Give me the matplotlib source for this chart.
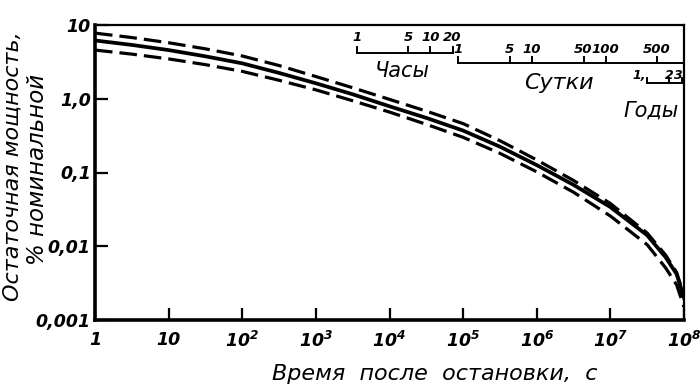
import numpy as np
import matplotlib
matplotlib.use("Agg")
import matplotlib.pyplot as plt
import matplotlib.transforms as mtransforms

# ---- data ----
time_s = [1, 3.16, 10, 31.6, 1e2, 316, 1e3, 3.16e3, 1e4, 3.16e4, 1e5, 3.16e5,
          1e6, 3.16e6, 1e7, 3.16e7, 5.62e7, 7.94e7, 1e8]
power_upper = [7.76, 6.76, 5.75, 4.75, 3.80, 2.82, 2.00, 1.41, 0.98, 0.68, 0.46,
               0.27, 0.148, 0.078, 0.038, 0.0151, 0.0076, 0.0044, 0.00214]
power_nominal = [6.17, 5.37, 4.57, 3.76, 3.02, 2.24, 1.62, 1.15, 0.79, 0.55, 0.37,
                 0.224, 0.126, 0.068, 0.034, 0.0141, 0.0071, 0.0042, 0.0020]
power_lower = [4.57, 4.03, 3.47, 2.90, 2.35, 1.78, 1.32, 0.94, 0.66, 0.45, 0.30,
               0.182, 0.102, 0.054, 0.0257, 0.0105, 0.0051, 0.0030, 0.0015]

x_ticks = [1, 10, 1e2, 1e3, 1e4, 1e5, 1e6, 1e7, 1e8]
x_ticklabels = ["1", "10", r"$10^{2}$", r"$10^{3}$", r"$10^{4}$", r"$10^{5}$",
                r"$10^{6}$", r"$10^{7}$", r"$10^{8}$"]
y_ticks = [0.001, 0.01, 0.1, 1.0, 10]
y_ticklabels = ["0,001", "0,01", "0,1", "1,0", "10"]

hours_ticks = [1, 5, 10, 20]
days_ticks = [1, 5, 10, 50, 100, 500]
years_ticks = [1, 2, 3]
SEC_PER_HOUR = 3600
SEC_PER_DAY = 86400
SEC_PER_YEAR = 3.156e7

# ---- style ----
plt.rcParams["font.family"] = ["DejaVu Sans"]
plt.rcParams["mathtext.fontset"] = "custom"
plt.rcParams["mathtext.rm"] = "DejaVu Sans:italic:bold"
plt.rcParams["mathtext.it"] = "DejaVu Sans:italic:bold"
plt.rcParams["mathtext.default"] = "rm"

fig = plt.figure(figsize=(7, 3.9), dpi=100)
ax = fig.add_axes([95 / 700, 1 - 320 / 390, (684 - 95) / 700, (320 - 25) / 390])

ax.plot(time_s, power_upper, color="black", lw=2.3, dashes=(5.5, 2.2))
ax.plot(time_s, power_nominal, color="black", lw=2.7)
ax.plot(time_s, power_lower, color="black", lw=2.3, dashes=(5.5, 2.2))

ax.set_xscale("log")
ax.set_yscale("log")
ax.set_xlim(1, 1e8)
ax.set_ylim(0.001, 10)
ax.set_xticks(x_ticks)
ax.set_xticklabels(x_ticklabels)
ax.set_yticks(y_ticks)
ax.set_yticklabels(y_ticklabels)
ax.minorticks_off()
ax.tick_params(axis="both", direction="in", length=9, width=1.6, color="black")
ax.tick_params(axis="x", pad=8)
ax.tick_params(axis="y", pad=3)
for lab in ax.get_xticklabels() + ax.get_yticklabels():
    lab.set_fontsize(12.5)
    lab.set_fontstyle("italic")
    lab.set_fontweight("bold")

for side in ["left", "bottom"]:
    ax.spines[side].set_linewidth(2.6)
for side in ["top", "right"]:
    ax.spines[side].set_linewidth(1.6)

fig.text(0.621, 0.04, "Время  после  остановки,  с", fontsize=16,
         style="italic", ha="center", va="center")
fig.text(0.018, 0.575, "Остаточная мощность,", rotation=90, fontsize=16,
         style="italic", ha="center", va="center")
fig.text(0.053, 0.565, "% номинальной", rotation=90, fontsize=16.5,
         style="italic", ha="center", va="center")

# ---- time-unit scales in the top right ----
tr = mtransforms.blended_transform_factory(ax.transData, ax.transAxes)
tkw = dict(transform=tr, fontsize=9.5, style="italic", weight="bold",
           ha="center", va="center")
slw = 1.4

# hours
h_sec = [h * SEC_PER_HOUR for h in hours_ticks]
ax.plot([h_sec[0], h_sec[-1]], [0.905, 0.905], color="black", lw=slw, transform=tr)
for s, h in zip(h_sec, hours_ticks):
    ax.plot([s, s], [0.905, 0.925], color="black", lw=slw, transform=tr)
    ax.text(s, 0.957, str(h), **tkw)
ax.text(1.48e4, 0.843, "Часы", transform=tr, fontsize=15, style="italic",
        ha="center", va="center")

# days
d_sec = [d * SEC_PER_DAY for d in days_ticks]
ax.plot([d_sec[0], 1e8], [0.871, 0.871], color="black", lw=slw, transform=tr)
for s, d in zip(d_sec, days_ticks):
    ax.plot([s, s], [0.871, 0.893], color="black", lw=slw, transform=tr)
    ax.text(s, 0.918, str(d), **tkw)
ax.text(2.0e6, 0.805, "Сутки", transform=tr, fontsize=16, style="italic",
        ha="center", va="center")

# years
y_sec = [y * SEC_PER_YEAR for y in years_ticks]
ax.plot([y_sec[0], 1e8], [0.802, 0.802], color="black", lw=slw, transform=tr)
for s, y in zip(y_sec, years_ticks):
    ax.plot([s, s], [0.802, 0.82], color="black", lw=slw, transform=tr)
ax.text(y_sec[0] * 0.97, 0.83, "1,", transform=tr, fontsize=9, style="italic",
        weight="bold", ha="right", va="center")
ax.text(y_sec[1], 0.83, "2", transform=tr, fontsize=9, style="italic",
        weight="bold", ha="center", va="center")
ax.text(y_sec[2], 0.83, "3", transform=tr, fontsize=9, style="italic",
        weight="bold", ha="right", va="center")
ax.text(3.6e7, 0.71, "Годы", transform=tr, fontsize=15, style="italic",
        ha="center", va="center")

fig.savefig("out.png", dpi=100)
